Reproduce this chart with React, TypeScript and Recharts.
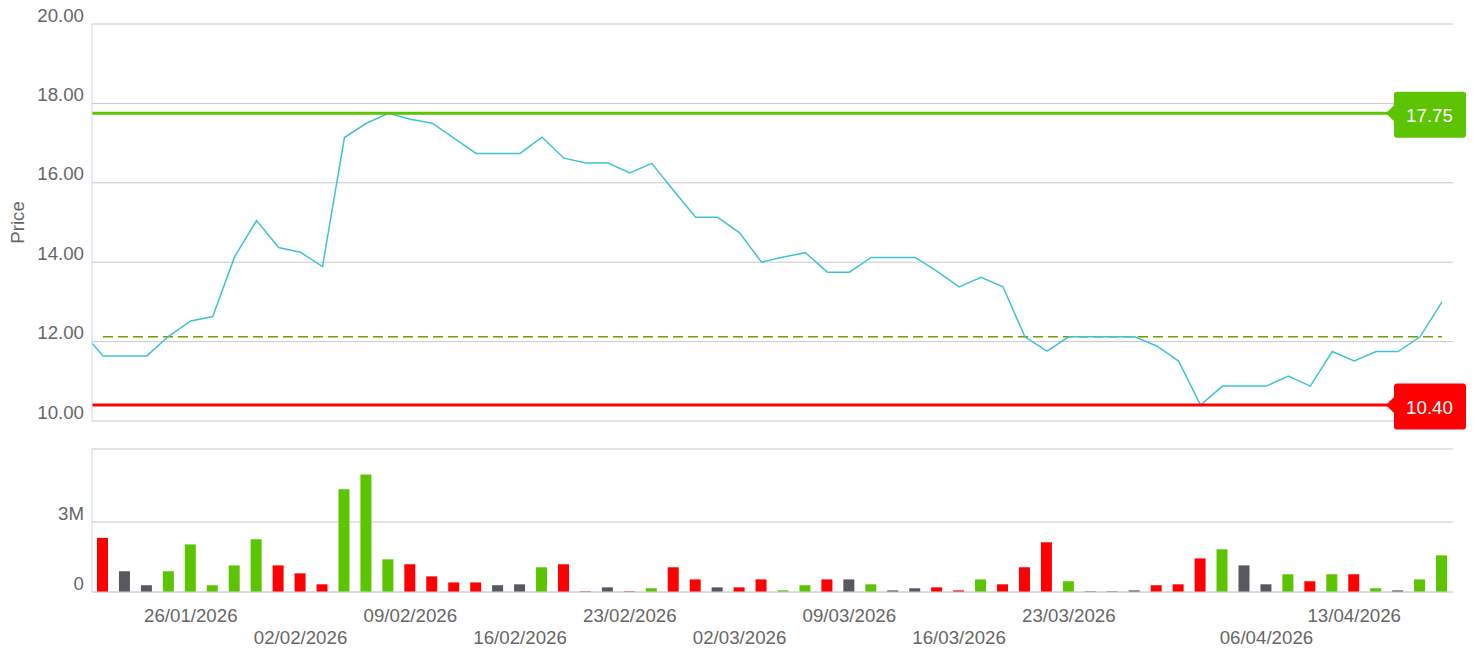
import React from 'react'
import {
  ComposedChart, Line, Bar, Cell, XAxis, YAxis, CartesianGrid, ReferenceLine,
} from 'recharts'

// closing prices, first value is the day before the visible window (clipped at the left edge)
const prices = [
  12.28,
  11.64, 11.64, 11.64, 12.14, 12.52, 12.63, 14.14, 15.05, 14.37, 14.25,
  13.89, 17.14, 17.5, 17.75, 17.6, 17.5, 17.12, 16.74, 16.74, 16.74,
  17.15, 16.62, 16.5, 16.5, 16.25, 16.49, 15.8, 15.13, 15.13, 14.74,
  14.0, 14.13, 14.24, 13.75, 13.75, 14.12, 14.12, 14.12, 13.77, 13.38,
  13.62, 13.38, 12.12, 11.76, 12.12, 12.12, 12.12, 12.12, 11.89, 11.51,
  10.4, 10.88, 10.88, 10.88, 11.13, 10.88, 11.75, 11.51, 11.75, 11.75,
  12.12, 13.0,
]

const volumes = [
  2320000, 890000, 290000, 890000, 2040000, 290000, 1140000, 2260000, 1140000, 800000,
  330000, 4400000, 5040000, 1400000, 1190000, 670000, 410000, 410000, 290000, 330000,
  1060000, 1190000, 30000, 200000, 30000, 160000, 1060000, 540000, 200000, 200000,
  540000, 70000, 290000, 540000, 540000, 330000, 70000, 160000, 200000, 70000,
  540000, 330000, 1060000, 2130000, 460000, 30000, 30000, 70000, 290000, 330000,
  1440000, 1830000, 1140000, 330000, 760000, 460000, 760000, 760000, 160000, 70000,
  540000, 1570000,
]

const tickIdx = [4, 9, 14, 19, 24, 29, 34, 39, 44, 53, 57]
const tickLabels = [
  '26/01/2026', '02/02/2026', '09/02/2026', '16/02/2026', '23/02/2026', '02/03/2026',
  '09/03/2026', '16/03/2026', '23/03/2026', '06/04/2026', '13/04/2026',
]

const highPrice = 17.75
const lowPrice = 10.4
const avgPrice = 12.12
const priceTicks = [10, 12, 14, 16, 18, 20]
const volumeTop = 6130000
const volumeTicks = [0, 3000000, volumeTop]

const FONT = '"Liberation Sans", Arial, sans-serif'
const TXT = '#666666'
const GREEN = '#5cc400'
const RED = '#ff0000'
const GRAY = '#58585f'
const GRID = '#c8c8c8'
const AXIS = '#ccd6eb'

const priceData = prices.map((p, i) => ({ i: i - 1, price: p }))
const volumeData = volumes.map((v, i) => {
  const prev = prices[i]
  const cur = prices[i + 1]
  return { i, vol: v, color: cur > prev ? GREEN : cur < prev ? RED : GRAY }
})

function YTick({ x, y, payload, fmt }: any) {
  const s = fmt(payload.value)
  if (!s) return null
  return (
    <text x={x} y={y - 2.5} textAnchor="end" fill={TXT} fontSize={18.7} fontFamily={FONT}>{s}</text>
  )
}

function XTick({ x, y, payload }: any) {
  const k = tickIdx.indexOf(payload.value)
  if (k < 0) return null
  return (
    <text x={x} y={y + (k % 2 === 0 ? 30 : 51.5)} textAnchor="middle" fill={TXT} fontSize={18.7} fontFamily={FONT}>
      {tickLabels[k]}
    </text>
  )
}

function PriceTitle({ viewBox }: any) {
  const cx = viewBox.x + 24
  const cy = viewBox.y + viewBox.height / 2
  return (
    <text x={cx} y={cy} textAnchor="middle" fill={TXT} fontSize={18.7} fontFamily={FONT}
      transform={`rotate(-90, ${cx}, ${cy})`}>Price</text>
  )
}

function Badge({ viewBox, color, text }: any) {
  const right = viewBox.x + viewBox.width
  const y = viewBox.y
  const bx = right - 59
  return (
    <g>
      <path d={`M ${bx + 1} ${y - 9} L ${right - 67} ${y} L ${bx + 1} ${y + 9} Z`} fill={color} />
      <rect x={bx} y={y - 21.5} width={72} height={46} rx={3} fill={color} />
      <text x={right - 23.5} y={y + 9} textAnchor="middle" fill="#ffffff" fontSize={18.7} fontFamily={FONT}>{text}</text>
    </g>
  )
}

export default function App() {
  return (
    <div style={{ position: 'absolute', left: 0, top: 0, width: 1480, height: 649, background: '#fff', fontFamily: FONT }}>
      <ComposedChart width={1480} height={430} data={priceData} margin={{ top: 24, right: 27, bottom: 9, left: 0 }}>
        <CartesianGrid vertical={false} stroke={GRID} />
        <XAxis dataKey="i" type="number" domain={[-0.5, 61.5]} allowDataOverflow hide />
        <YAxis
          domain={[10, 20]} ticks={priceTicks} width={92} tickSize={0} tickMargin={8}
          axisLine={{ stroke: AXIS }} tickLine={false}
          tick={<YTick fmt={(v: number) => v.toFixed(2)} />}
          label={<PriceTitle />}
        />
        <ReferenceLine
          segment={[{ x: 0, y: avgPrice }, { x: 61, y: avgPrice }]}
          stroke="#6e9e00" strokeWidth={1.5} strokeDasharray="10 5"
        />
        <Line
          type="linear" dataKey="price" stroke="#3fc3d3" strokeWidth={1.5}
          dot={false} activeDot={false} isAnimationActive={false}
        />
        <ReferenceLine y={highPrice} stroke={GREEN} strokeWidth={3}
          label={<Badge color={GREEN} text={highPrice.toFixed(2)} />} />
        <ReferenceLine y={lowPrice} stroke={RED} strokeWidth={3}
          label={<Badge color={RED} text={lowPrice.toFixed(2)} />} />
      </ComposedChart>
      <ComposedChart width={1480} height={219} data={volumeData} margin={{ top: 19, right: 27, bottom: 0, left: 0 }}>
        <CartesianGrid vertical={false} stroke={GRID} />
        <XAxis
          dataKey="i" type="number" domain={[-0.5, 61.5]} ticks={tickIdx} interval={0}
          height={57} tickSize={0} tickMargin={0} tickLine={false}
          axisLine={{ stroke: AXIS }} tick={<XTick />}
        />
        <YAxis
          domain={[0, volumeTop]} ticks={volumeTicks} width={92} tickSize={0} tickMargin={8}
          axisLine={{ stroke: AXIS }} tickLine={false}
          tick={<YTick fmt={(v: number) => (v === 0 ? '0' : v === 3000000 ? '3M' : '')} />}
        />
        <Bar dataKey="vol" barSize={11} isAnimationActive={false}>
          {volumeData.map((d) => <Cell key={d.i} fill={d.color} />)}
        </Bar>
      </ComposedChart>
    </div>
  )
}
